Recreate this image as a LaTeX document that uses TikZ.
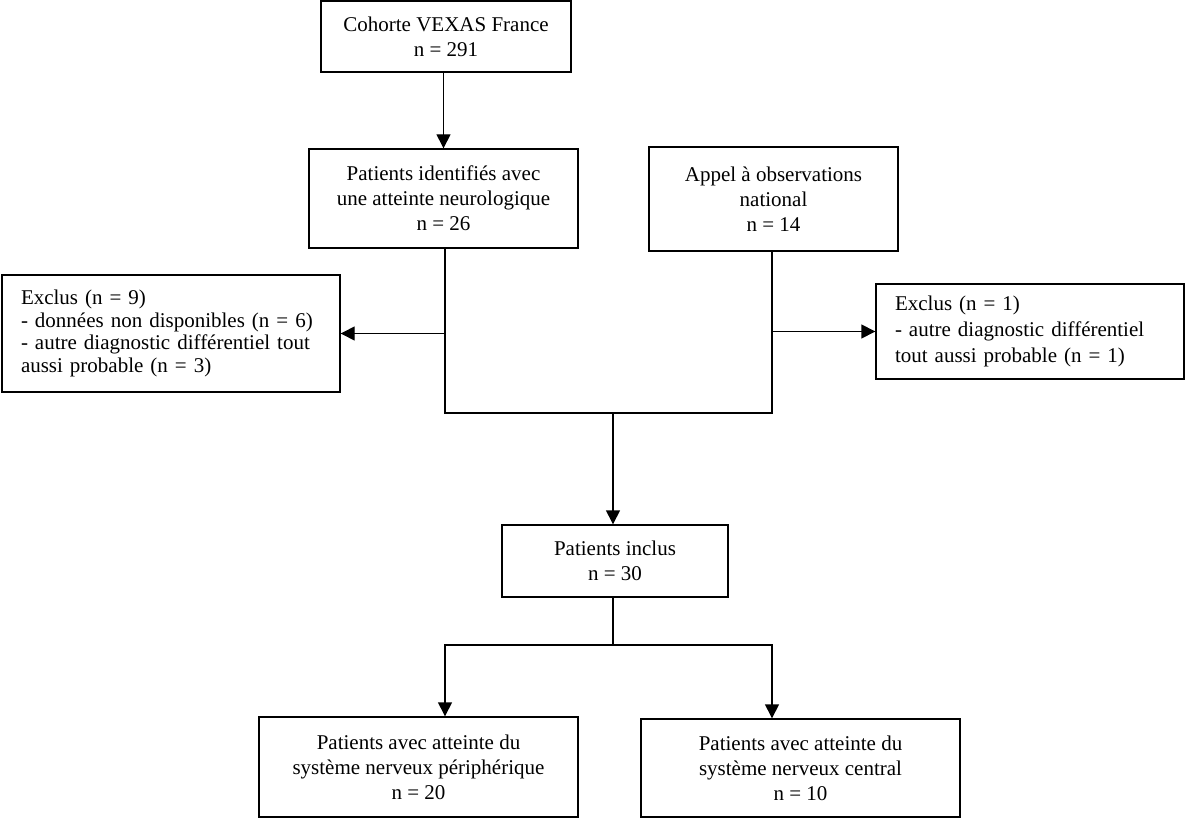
\documentclass[tikz,border=0pt]{standalone}
\usepackage{fontspec}
\setmainfont{Liberation Serif}
\usetikzlibrary{arrows.meta}

\begin{document}
\begin{tikzpicture}[x=1pt, y=-1pt, main/.style={draw, rectangle, line width=1.4pt, align=center, inner sep=0pt, font=\fontsize{21}{25}\selectfont}, excl/.style={draw, rectangle, line width=1.4pt, align=left, inner xsep=19pt, inner ysep=0pt, font=\fontsize{21}{22.7}\selectfont}, n/.style={-{Triangle[length=14pt, width=14pt]}, line width=1.4pt}, p/.style={line width=1.4pt}]
                \useasboundingbox (0,0) rectangle (1185,818);
                % nodes
                \node[main, minimum width=250pt, minimum height=71pt] (cohort) at (446,36.5) {Cohorte VEXAS France\\n = 291};
                \node[main, minimum width=269pt, minimum height=99pt] (ident) at (443.5,198.5) {Patients identifiés avec\\une atteinte neurologique\\n = 26};
                \node[main, minimum width=249pt, minimum height=104pt] (appel) at (773.5,199) {Appel à observations\\national\\n = 14};
                \node[excl, text width=300pt, minimum height=117pt] (exclL) at (171,333.5) {Exclus (n = 9)\\- données non disponibles (n = 6)\\- autre diagnostic différentiel tout\\aussi probable (n = 3)};
                \node[excl, text width=270pt, minimum height=95pt, font=\fontsize{21}{26}\selectfont] (exclR) at (1030,331.5) {Exclus (n = 1)\\- autre diagnostic différentiel\\tout aussi probable (n = 1)};
                \node[main, minimum width=226pt, minimum height=72pt] (inclus) at (615,561) {Patients inclus\\n = 30};
                \node[main, minimum width=319pt, minimum height=100pt] (periph) at (418.5,767) {Patients avec atteinte du\\système nerveux périphérique\\n = 20};
                \node[main, minimum width=319pt, minimum height=98pt] (central) at (800.5,768) {Patients avec atteinte du\\système nerveux central\\n = 10};
                % junctions
                \coordinate (jl) at (445,413);
                \coordinate (jr) at (772,413);
                \coordinate (jm) at (613,413);
                \coordinate (sl) at (445,645);
                \coordinate (sr) at (772,645);
                % edges
                \draw [n] (cohort.south -| ident.north) -- (ident.north);
                \draw [p] (ident.south -| jl) -- (jl) -- (jr) -- (appel.south -| jr);
                \draw [n] (jl |- exclL.east) -- (exclL.east);
                \draw [n] (jr |- exclR.west) -- (exclR.west);
                \draw [n] (jm) -- (inclus.north -| jm);
                \draw [n] (inclus.south -| jm) |- (sl) -- (sl |- periph.north);
                \draw [n] (inclus.south -| jm) |- (sr) -- (sr |- central.north);
            \end{tikzpicture}
\end{document}
